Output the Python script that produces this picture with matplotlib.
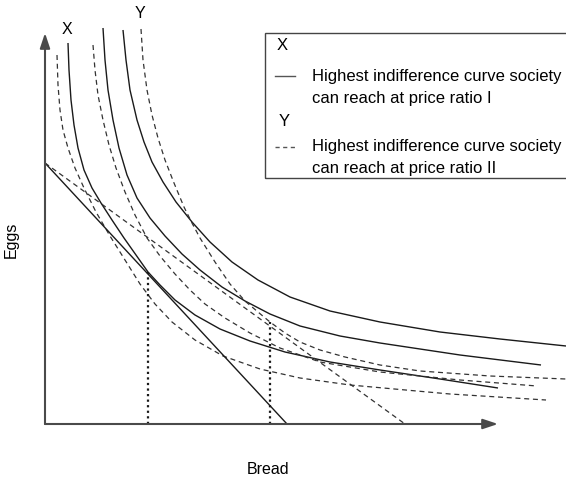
import matplotlib
matplotlib.use("Agg")
import matplotlib.pyplot as plt
from matplotlib.patches import Rectangle
from matplotlib.lines import Line2D

plt.rcParams["font.family"] = ["Liberation Sans", "DejaVu Sans"]

W, H = 566, 479  # output size in pixels

# indifference curves (bread, eggs) -- solid = price ratio I, dashed = price ratio II
s1_bread = [23, 24, 26, 29, 33, 39, 47, 56, 67, 79, 91, 103, 115, 130, 150, 175, 205, 240, 285, 335, 395, 453]
s1_eggs = [381, 354, 324, 299, 276, 254, 236, 221, 204, 186, 169, 152, 139, 124, 109, 95, 83, 72, 62, 54, 45, 36]
s2_bread = [58, 60, 63, 68, 74, 82, 92, 105, 120, 137, 155, 177, 200, 225, 255, 295, 335, 415, 496]
s2_eggs = [396, 364, 334, 304, 276, 249, 226, 206, 188, 170, 154, 137, 123, 110, 98, 88, 81, 69, 59]
s3_bread = [78, 81, 85, 92, 99, 107, 118, 131, 147, 165, 187, 213, 245, 285, 335, 395, 455, 521]
s3_eggs = [394, 364, 334, 304, 282, 262, 242, 222, 202, 182, 162, 144, 127, 113, 102, 92, 85, 78]

d1_bread = [12, 13, 15, 18, 23, 30, 39, 51, 65, 80, 95, 110, 127, 150, 178, 215, 255, 305, 405, 501]
d1_eggs = [369, 339, 314, 294, 276, 256, 236, 212, 188, 164, 140, 120, 102, 84, 68, 55, 46, 39, 30, 24]
d2_bread = [48, 50, 53, 58, 64, 71, 80, 90, 102, 115, 130, 145, 160, 180, 205, 235, 275, 335, 415, 492]
d2_eggs = [379, 354, 329, 304, 279, 256, 232, 209, 186, 168, 150, 134, 120, 106, 91, 76, 62, 52, 44, 38]
d3_bread = [96, 98, 102, 107, 113, 120, 129, 139, 147, 155, 170, 185, 200, 213, 225, 240, 255, 275, 300, 335, 375, 445, 521]
d3_eggs = [395, 364, 334, 309, 286, 264, 241, 217, 201, 186, 162, 140, 123, 112, 102, 91, 82, 74, 67, 59, 53, 48, 45]

# price lines (intercepts on the two axes)
price_i_bread = [0, 242]
price_i_eggs = [261, 0]
price_ii_bread = [0, 360]
price_ii_eggs = [261, 0]

# tangency points (bread, eggs)
tangent_i = (103, 152)
tangent_ii = (225, 102)

AXIS_X_END = 453
AXIS_Y_END = 391

INK = "#1a1a1a"


def fx(px):
    return px / W


def fy(py):
    return 1 - py / H


fig = plt.figure(figsize=(W / 100, H / 100), dpi=100)
ax = fig.add_axes([fx(45), 1 - 424 / H, 521 / W, 424 / H])
ax.set_xlim(0, 521)
ax.set_ylim(0, 424)
ax.axis("off")

solid = dict(color=INK, lw=1.0, solid_capstyle="butt")
dashed = dict(color="#333333", lw=0.9, linestyle=(0, (4, 3)))

for bx, ey in [(s1_bread, s1_eggs), (s2_bread, s2_eggs), (s3_bread, s3_eggs)]:
    ax.plot(bx, ey, **solid)
for bx, ey in [(d1_bread, d1_eggs), (d2_bread, d2_eggs), (d3_bread, d3_eggs)]:
    ax.plot(bx, ey, **dashed)

ax.plot(price_i_bread, price_i_eggs, **solid)
ax.plot(price_ii_bread, price_ii_eggs, **dashed)

for tx, ty in [tangent_i, tangent_ii]:
    ax.plot([tx, tx], [0, ty], color=INK, lw=1.6, linestyle=(0, (1, 1.5)))

# axes with arrow heads
arrow = dict(arrowstyle="-|>,head_length=0.9,head_width=0.3", color="#4a4a4a", lw=1.5,
             shrinkA=0, shrinkB=0)
ax.annotate("", xy=(0, AXIS_Y_END), xytext=(0, 0), arrowprops=arrow, annotation_clip=False)
ax.annotate("", xy=(AXIS_X_END, 0), xytext=(0, 0), arrowprops=arrow, annotation_clip=False)

fs = 11.5
lfs = 12
fig.text(fx(11), fy(240), "Eggs", rotation=90, ha="center", va="center", fontsize=fs)
fig.text(fx(268), fy(470), "Bread", ha="center", va="center", fontsize=fs)
fig.text(fx(67), fy(30), "X", ha="center", va="center", fontsize=fs)
fig.text(fx(140), fy(14), "Y", ha="center", va="center", fontsize=fs)

# legend box
fig.patches.append(Rectangle((fx(265), fy(178)), fx(400), fy(33) - fy(178), transform=fig.transFigure,
                             fill=False, edgecolor="#444444", lw=1.0))
fig.text(fx(277), fy(46), "X", ha="left", va="center", fontsize=lfs)
fig.lines.append(Line2D([fx(275), fx(295)], [fy(76), fy(76)], transform=fig.transFigure,
                        color="#555555", lw=1.0))
fig.text(fx(312), fy(76), "Highest indifference curve society", ha="left", va="center", fontsize=lfs)
fig.text(fx(312), fy(98), "can reach at price ratio I", ha="left", va="center", fontsize=lfs)
fig.text(fx(279), fy(122), "Y", ha="left", va="center", fontsize=lfs)
fig.lines.append(Line2D([fx(275), fx(296)], [fy(147), fy(147)], transform=fig.transFigure,
                        color="#555555", lw=1.0, linestyle=(0, (3, 2.5))))
fig.text(fx(312), fy(147), "Highest indifference curve society", ha="left", va="center", fontsize=lfs)
fig.text(fx(312), fy(168), "can reach at price ratio II", ha="left", va="center", fontsize=lfs)

fig.savefig("out.png", dpi=100)
